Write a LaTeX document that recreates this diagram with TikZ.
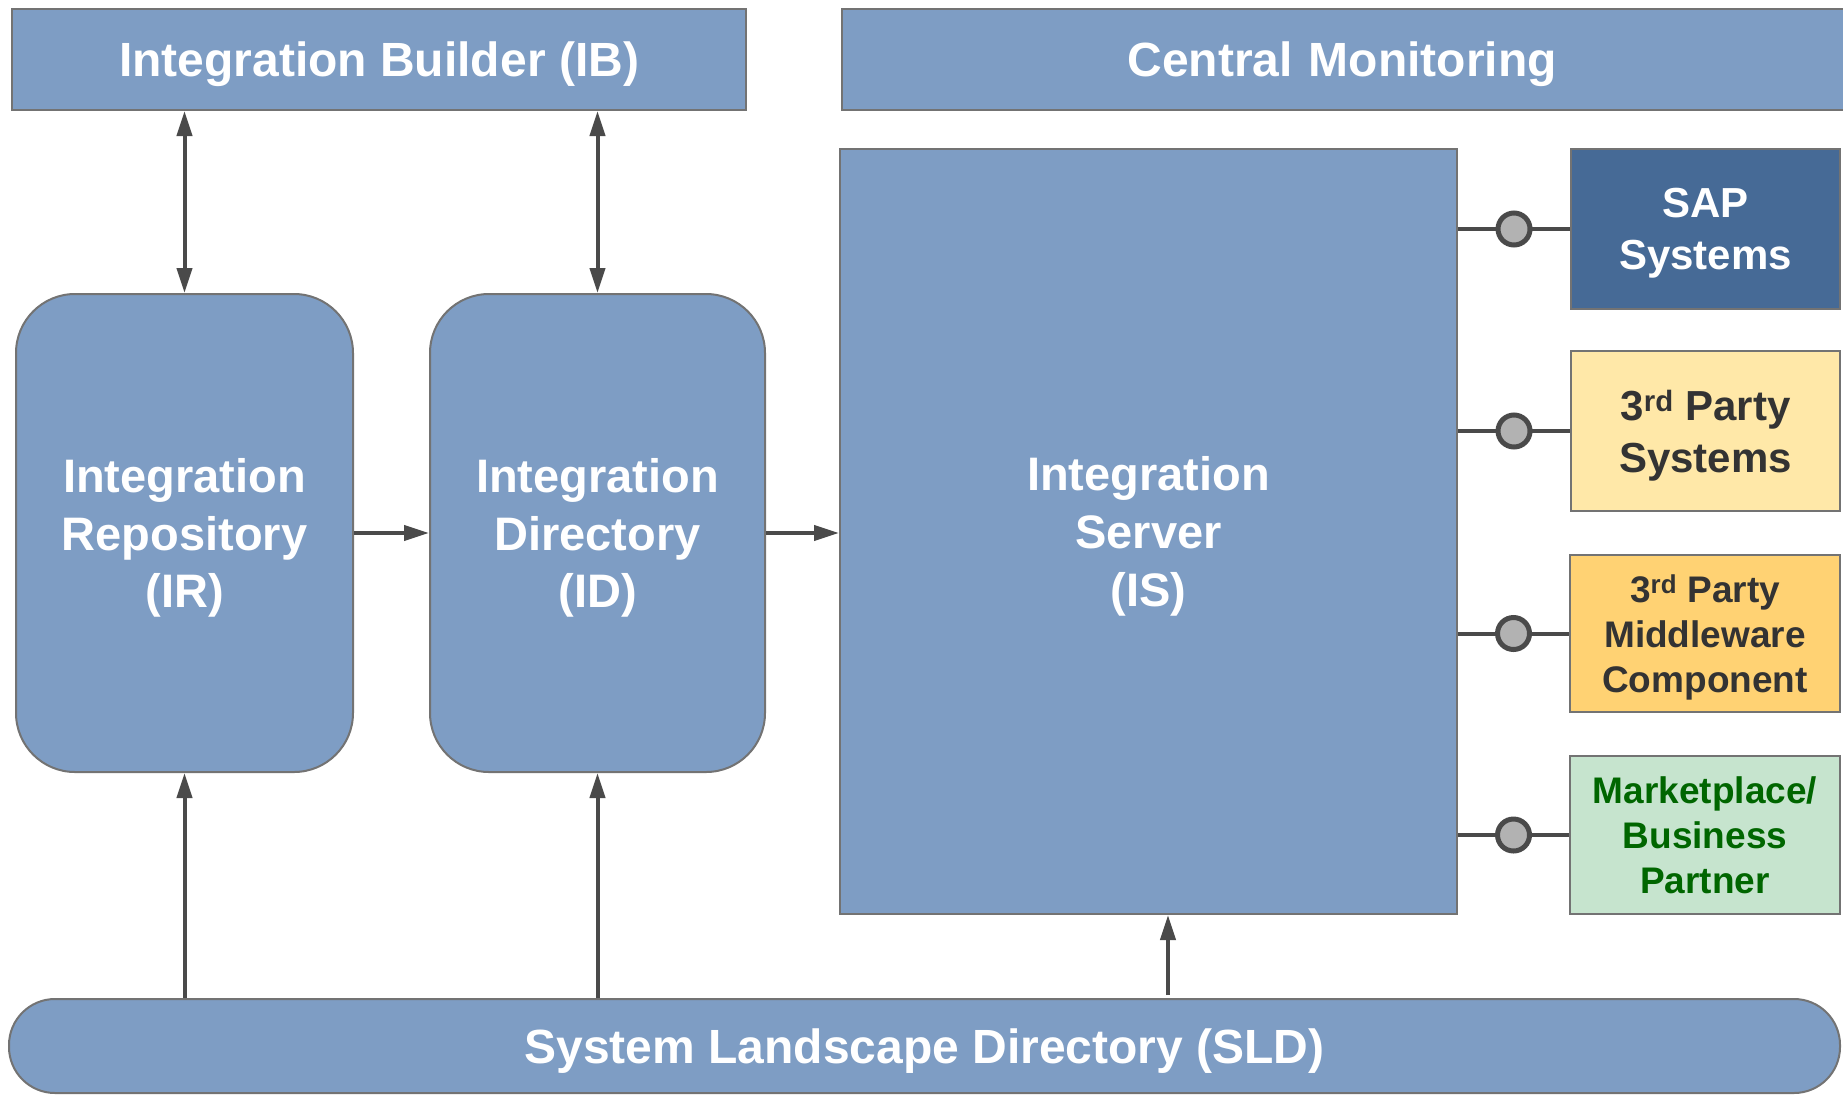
\documentclass[tikz,border=0pt]{standalone}
\usepackage{fontspec}
\setmainfont{Liberation Sans}
\usetikzlibrary{positioning}
\usetikzlibrary{arrows.meta}

\definecolor{boxblue}{HTML}{7E9DC4}
\definecolor{sapblue}{HTML}{466A96}
\definecolor{partyyellow}{HTML}{FFE8A8}
\definecolor{mworange}{HTML}{FFD273}
\definecolor{mpgreen}{HTML}{C6E4CE}
\definecolor{mptext}{HTML}{006600}
\definecolor{edgegray}{HTML}{737373}
\definecolor{linegray}{HTML}{4A4A4A}
\definecolor{darktext}{HTML}{333333}

\begin{document}
\begin{tikzpicture}[x=1pt, y=-1pt, >={Triangle[length=25pt,width=15pt]},
  every block/.style={draw=edgegray, line width=2pt, fill=boxblue, text=white,
    inner sep=0pt, align=center, text depth=-4pt,
    font=\fontsize{47}{57.6}\selectfont\bfseries},
  block/.style args={#1x#2}{every block, minimum width=#1pt, minimum height=#2pt},
  side/.style={every block, minimum width=269pt, minimum height=159pt},
  bar text/.style={font=\fontsize{48}{58}\selectfont\bfseries},
  small text/.style={font=\fontsize{42}{52}\selectfont\bfseries},
  tiny text/.style={font=\fontsize{37}{45}\selectfont\bfseries},
  flow/.style={draw=linegray, line width=4pt},
  link/.style={draw=linegray, line width=4pt},
  plug/.style={circle, draw=linegray, line width=5pt, fill=gray!60,
    minimum size=32pt, inner sep=0pt}]

\useasboundingbox (0,0) rectangle (1843,1095);

% top bars
\node [block=734x101, bar text] (IB) at (379,59.5) {Integration Builder (IB)};
\node [block=1016x101, bar text, text width=1000pt] (CM) at (1350,59.5) {Central Monitoring\hspace*{16pt}};

% main components
\node [block=337x478, rounded corners=59pt] (IR) at (184.5,533) {Integration\\Repository\\(IR)};
\node [block=335x478, rounded corners=59pt] (ID) at (597.5,533) {Integration\\Directory\\(ID)};
\node [block=617x765] (IS) at (1148.5,531.5) {Integration\\Server\\(IS)};

% systems on the right
\node [side, fill=sapblue, small text, minimum height=160pt] (sap) at (1705.5,229) {SAP\\Systems};
\node [side, fill=partyyellow, text=darktext, small text, minimum height=160pt] (third) at (1705.5,431) {3\textsuperscript{rd} Party\\Systems};
\node [side, fill=mworange, text=darktext, tiny text, minimum width=270pt, minimum height=157pt] (mw) at (1705,633.5) {3\textsuperscript{rd} Party\\Middleware\\Component};
\node [side, fill=mpgreen, text=mptext, tiny text, minimum width=270pt, minimum height=158pt] (mp) at (1705,835) {Marketplace/\\Business\\Partner};

% landscape directory
\node [block=1831x94, bar text, rounded corners=46pt] (SLD) at (924.5,1046) {System Landscape Directory (SLD)};

\foreach \n in {IR,ID}
  \draw [flow, <->] (IB.south -| \n.north) -- (\n.north);

\foreach \n in {IR,ID}
  \draw [flow, ->] (SLD.north -| \n.south) -- (\n.south);

\draw [flow, ->] (IR.east) -- (ID.west);
\draw [flow, ->] (ID.east) -- (ID.east -| IS.west);

\coordinate (sld-is) at (1168,995);
\draw [flow, ->] (sld-is) -- (sld-is |- IS.south);

\foreach \b in {sap,third,mw,mp}
  \draw [link] (IS.east |- \b.west) -- (\b.west) node [plug, pos=0.5] (plug-\b) {};

\end{tikzpicture}
\end{document}
